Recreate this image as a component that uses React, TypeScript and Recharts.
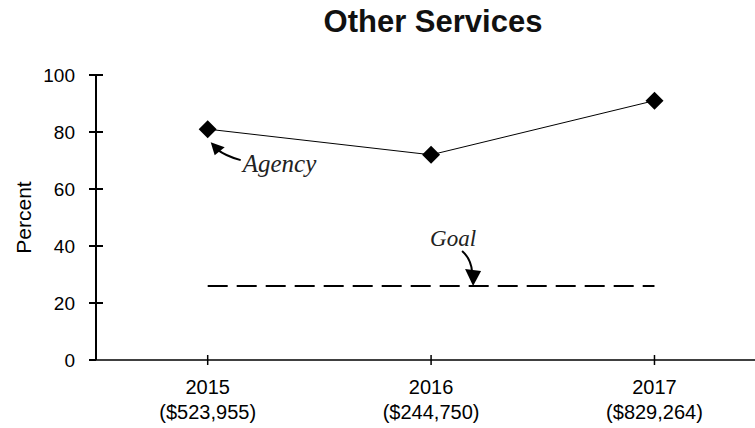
import { LineChart, Line, XAxis, YAxis, ReferenceDot } from 'recharts'

const years = ['2015', '2016', '2017']
const amounts = ['($523,955)', '($244,750)', '($829,264)']
const agency = [81, 72, 91]
const goal = [26, 26, 26]
const yTicks = [0, 20, 40, 60, 80, 100]

const data = years.map((year, i) => ({
  x: i + 1,
  year,
  amount: amounts[i],
  agency: agency[i],
  goal: goal[i],
}))

const font = '"Liberation Sans", Arial, sans-serif'
const italic = '"Liberation Serif", "Times New Roman", serif'

function Diamond(props: any) {
  const { cx, cy } = props
  if (cx == null || cy == null) return null
  const r = 9
  return <path d={`M${cx},${cy - r} L${cx + r},${cy} L${cx},${cy + r} L${cx - r},${cy} Z`} fill="#000" />
}

function XTick(props: any) {
  const { x, y, payload } = props
  const i = Math.round(payload.value) - 1
  return (
    <g>
      <line x1={x} x2={x} y1={y - 5} y2={y + 5} stroke="#000" strokeWidth={1.5} />
      <text x={x} y={y + 34} textAnchor="middle" fontFamily={font} fontSize={20} fill="#000">{years[i]}</text>
      <text x={x} y={y + 59} textAnchor="middle" fontFamily={font} fontSize={20} fill="#000">{amounts[i]}</text>
    </g>
  )
}

function YTick(props: any) {
  const { x, y, payload } = props
  return (
    <g>
      <line x1={x - 7} x2={payload.value === 0 ? x : x + 7} y1={y} y2={y} stroke="#000" strokeWidth={2} />
      <text x={x - 21} y={y + 7} textAnchor="end" fontFamily={font} fontSize={19} fill="#000">{payload.value}</text>
    </g>
  )
}

function AgencyNote(props: any) {
  const { cx, cy } = props
  if (cx == null || cy == null) return null
  return (
    <g>
      <path d={`M${cx + 33},${cy + 31} Q${cx + 18},${cy + 27} ${cx + 9},${cy + 20}`} stroke="#000" strokeWidth={2} fill="none" />
      <path d={`M${cx + 3},${cy + 13} L${cx + 17},${cy + 18} L${cx + 7},${cy + 26} Z`} fill="#000" />
      <text x={cx + 35} y={cy + 43} fontFamily={italic} fontStyle="italic" fontSize={25} fill="#222">Agency</text>
    </g>
  )
}

function GoalNote(props: any) {
  const { cx, cy } = props
  if (cx == null || cy == null) return null
  return (
    <g>
      <path d={`M${cx + 31},${cy - 35} Q${cx + 40},${cy - 27} ${cx + 41},${cy - 14}`} stroke="#000" strokeWidth={2} fill="none" />
      <path d={`M${cx + 42},${cy} L${cx + 34},${cy - 17} L${cx + 50},${cy - 15} Z`} fill="#000" />
      <text x={cx - 1} y={cy - 40} fontFamily={italic} fontStyle="italic" fontSize={23} fill="#222">Goal</text>
    </g>
  )
}

export default function App() {
  return (
    <div style={{ position: 'absolute', left: 0, top: 0, width: 755, height: 428, background: '#fff' }}>
      <svg width={755} height={50} style={{ position: 'absolute', left: 0, top: 0 }}>
        <text x={433} y={32} textAnchor="middle" fontFamily={font} fontWeight="bold" fontSize={31} fill="#111">
          Other Services
        </text>
      </svg>
      <LineChart width={755} height={428} data={data} margin={{ top: 75, right: 0, bottom: 0, left: 0 }}>
        <XAxis
          dataKey="x"
          type="number"
          domain={[0.5, 3.45]}
          ticks={[1, 2, 3]}
          axisLine={{ stroke: '#000', strokeWidth: 1.5 }}
          tickLine={false}
          tickSize={0}
          tickMargin={0}
          tick={<XTick />}
          height={68}
        />
        <YAxis
          type="number"
          domain={[0, 100]}
          ticks={yTicks}
          width={96}
          axisLine={{ stroke: '#000', strokeWidth: 2 }}
          tickLine={false}
          tickSize={0}
          tickMargin={0}
          tick={<YTick />}
          label={{ value: 'Percent', angle: -90, position: 'insideLeft', offset: 24, style: { fontFamily: font, fontSize: 21, fill: '#000', textAnchor: 'middle' } }}
        />
        <Line dataKey="goal" stroke="#000" strokeWidth={2} strokeDasharray="20 9" dot={false} isAnimationActive={false} />
        <Line dataKey="agency" stroke="#000" strokeWidth={1} dot={<Diamond />} activeDot={false} isAnimationActive={false} />
        <ReferenceDot x={data[0].x} y={agency[0]} shape={<AgencyNote />} />
        <ReferenceDot x={data[1].x} y={goal[1]} shape={<GoalNote />} />
      </LineChart>
    </div>
  )
}
